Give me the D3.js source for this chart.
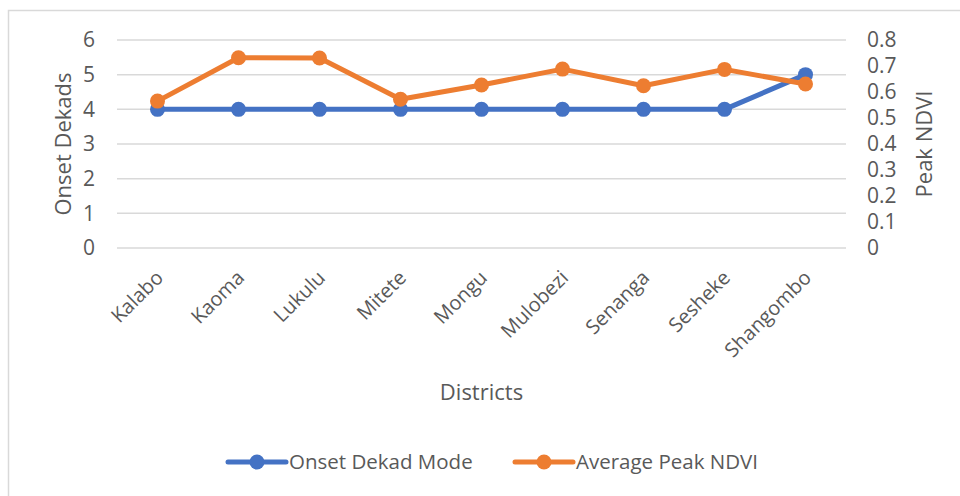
<!DOCTYPE html>
<html>
<head>
<meta charset="utf-8">
<script src="https://cdn.jsdelivr.net/npm/d3@7"></script>
<style>
  body { margin: 0; background: #fff; }
  svg text { font-family: "Open Sans", sans-serif; fill: #595959; }
</style>
</head>
<body>
<svg id="chart"></svg>
<script>
// данные графика
let districts = ["Kalabo", "Kaoma", "Lukulu", "Mitete", "Mongu", "Mulobezi", "Senanga", "Sesheke", "Shangombo"];
let onsetMode = [4, 4, 4, 4, 4, 4, 4, 4, 5];
let peakNdvi = [0.565, 0.732, 0.731, 0.572, 0.627, 0.688, 0.624, 0.687, 0.631];
let leftTicks = [0, 1, 2, 3, 4, 5, 6];
let rightTicks = [0, 0.1, 0.2, 0.3, 0.4, 0.5, 0.6, 0.7, 0.8];

let width = 960;
let height = 496;
let plotLeft = 117, plotRight = 846, plotTop = 40, plotBottom = 248;

let svg = d3.select("#chart")
    .attr("width", width)
    .attr("height", height);

// рамка
svg.append("rect")
    .attr("x", 8.5).attr("y", 10.5)
    .attr("width", 1000).attr("height", 1000)
    .attr("fill", "none")
    .attr("stroke", "#d9d9d9")
    .attr("stroke-width", 1.5);

let scaleX = d3.scaleBand()
    .domain(districts)
    .range([plotLeft, plotRight]);

let scaleY = d3.scaleLinear()
    .domain([0, 6])
    .range([plotBottom, plotTop]);

let scaleY2 = d3.scaleLinear()
    .domain([0, 0.8])
    .range([plotBottom, plotTop]);

// горизонтальные линии сетки
svg.append("g")
    .selectAll("line")
    .data(leftTicks)
    .enter()
    .append("line")
    .attr("x1", plotLeft).attr("x2", plotRight)
    .attr("y1", d => scaleY(d)).attr("y2", d => scaleY(d))
    .attr("stroke", "#d9d9d9")
    .attr("stroke-width", 1.5);

// левая ось
let axisY = d3.axisLeft(scaleY).tickValues(leftTicks).tickSize(0).tickPadding(0)
    .tickFormat(d3.format("d"));
let gy = svg.append("g")
    .attr("transform", `translate(95, 0)`)
    .call(axisY);
gy.select(".domain").remove();
gy.selectAll("text").style("font-size", "21px").attr("fill", "#595959").style("font-family", "Open Sans");

// правая ось
let axisY2 = d3.axisRight(scaleY2).tickValues(rightTicks).tickSize(0).tickPadding(0)
    .tickFormat(d => d === 0 ? "0" : d3.format(".1f")(d));
let gy2 = svg.append("g")
    .attr("transform", `translate(867, 0)`)
    .call(axisY2);
gy2.select(".domain").remove();
gy2.selectAll("text").style("font-size", "21px").attr("fill", "#595959").style("font-family", "Open Sans");

// подписи оси OX
let axisX = d3.axisBottom(scaleX).tickSize(0).tickPadding(0);
let gx = svg.append("g")
    .attr("transform", `translate(0, 279)`)
    .call(axisX);
gx.select(".domain").remove();
gx.selectAll("text")
    .style("font-size", "20px")
    .attr("fill", "#595959")
    .style("font-family", "Open Sans")
    .style("text-anchor", "end")
    .attr("dy", "0")
    .attr("transform", "translate(7, 0) rotate(-45)");

// названия осей
svg.append("text")
    .attr("transform", `translate(71, ${(plotTop + plotBottom) / 2}) rotate(-90)`)
    .attr("text-anchor", "middle")
    .style("font-size", "22px")
    .text("Onset Dekads");

svg.append("text")
    .attr("transform", `translate(932, ${(plotTop + plotBottom) / 2}) rotate(-90)`)
    .attr("text-anchor", "middle")
    .style("font-size", "22px")
    .text("Peak NDVI");

svg.append("text")
    .attr("x", (plotLeft + plotRight) / 2)
    .attr("y", 400)
    .attr("text-anchor", "middle")
    .style("font-size", "22px")
    .text("Districts");

let cx = d => scaleX(d) + scaleX.bandwidth() / 2;

// линия Onset Dekad Mode
let blue = "#4472C4", orange = "#ED7D31";
let lineLeft = d3.line().x((d, i) => cx(districts[i])).y(d => scaleY(d));
let lineRight = d3.line().x((d, i) => cx(districts[i])).y(d => scaleY2(d));

svg.append("path")
    .datum(onsetMode)
    .attr("d", lineLeft)
    .attr("fill", "none")
    .attr("stroke", blue)
    .attr("stroke-width", 5)
    .attr("stroke-linejoin", "round");

svg.selectAll(".dotBlue")
    .data(onsetMode)
    .enter()
    .append("circle")
    .attr("r", 7.5)
    .attr("cx", (d, i) => cx(districts[i]))
    .attr("cy", d => scaleY(d))
    .attr("fill", blue);

// линия Average Peak NDVI
svg.append("path")
    .datum(peakNdvi)
    .attr("d", lineRight)
    .attr("fill", "none")
    .attr("stroke", orange)
    .attr("stroke-width", 5)
    .attr("stroke-linejoin", "round");

svg.selectAll(".dotOrange")
    .data(peakNdvi)
    .enter()
    .append("circle")
    .attr("r", 7.5)
    .attr("cx", (d, i) => cx(districts[i]))
    .attr("cy", d => scaleY2(d))
    .attr("fill", orange);

// легенда
let legend = [
    {name: "Onset Dekad Mode", color: blue, x: 228},
    {name: "Average Peak NDVI", color: orange, x: 515}
];
let lg = svg.selectAll(".legend")
    .data(legend)
    .enter()
    .append("g")
    .attr("transform", d => `translate(${d.x}, 462)`);
lg.append("line")
    .attr("x1", 0).attr("x2", 58)
    .attr("y1", 0).attr("y2", 0)
    .attr("stroke", d => d.color)
    .attr("stroke-width", 5)
    .attr("stroke-linecap", "round");
lg.append("circle")
    .attr("cx", 29).attr("cy", 0).attr("r", 7.5)
    .attr("fill", d => d.color);
lg.append("text")
    .attr("x", 61).attr("y", 0)
    .attr("dy", "0.35em")
    .style("font-size", "20.5px")
    .text(d => d.name);
</script>
</body>
</html>
